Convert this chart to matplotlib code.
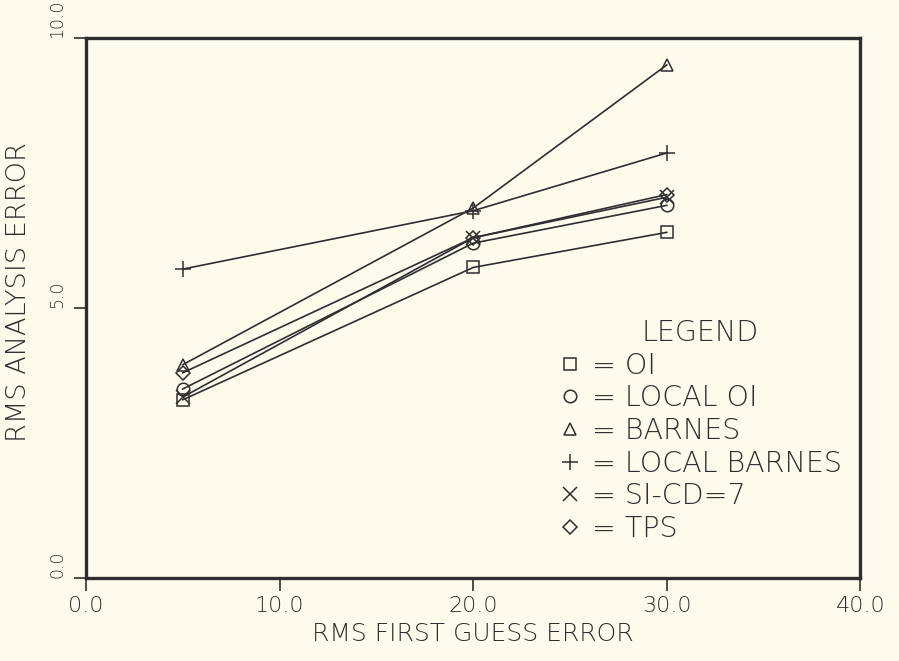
import numpy as np
import matplotlib
matplotlib.use('Agg')
import matplotlib.pyplot as plt

# data
firstGuess = [5.0, 20.0, 30.0]
oi          = [3.30, 5.75, 6.40]
localOi     = [3.50, 6.20, 6.90]
barnes      = [3.95, 6.85, 9.50]
localBarnes = [5.72, 6.80, 7.87]
sicd7       = [3.35, 6.30, 7.05]
tps         = [3.80, 6.30, 7.10]

names   = ['OI', 'LOCAL OI', 'BARNES', 'LOCAL BARNES', 'SI-CD=7', 'TPS']
series  = [oi, localOi, barnes, localBarnes, sicd7, tps]
markers = ['s', 'o', '^', '+', 'x', 'D']
msizes  = [9, 9, 9, 11, 10, 7]

xticks = [0.0, 10.0, 20.0, 30.0, 40.0]
yticks = [0.0, 5.0, 10.0]

bg  = '#fcfbec'
ink = '#2e2e2e'
plt.rcParams['font.family'] = ['DejaVu Sans']
plt.rcParams['font.weight'] = 'light'
plt.rcParams['axes.labelweight'] = 'light'
plt.rcParams['text.color'] = ink

fig = plt.figure(figsize=(8.99, 6.61), dpi=100, facecolor=bg)
ax = fig.add_axes([0.0957, 0.1256, 0.8613, 0.817], facecolor=bg)

for ys, mk, ms, nm in zip(series, markers, msizes, names):
    ax.plot(firstGuess, ys, color=ink, linewidth=1.2, marker=mk, markersize=ms,
            markerfacecolor='none', markeredgecolor=ink, markeredgewidth=1.1,
            label='= ' + nm)

ax.set_xlim(0, 40)
ax.set_ylim(0, 10)
ax.set_xticks(xticks)
ax.set_yticks(yticks)
ax.set_xticklabels(['%.1f' % v for v in xticks], fontsize=16, color=ink)
ax.set_yticklabels(['%.1f' % v for v in yticks], fontsize=12.5, color=ink,
                   rotation=90, va='bottom')
ax.tick_params(axis='both', direction='out', length=9, width=1.2, color=ink)
ax.tick_params(axis='x', pad=4)
ax.tick_params(axis='y', pad=5)
for s in ax.spines.values():
    s.set_linewidth(2.4)
    s.set_color(ink)

ax.set_xlabel('RMS FIRST GUESS ERROR', fontsize=18, color=ink, labelpad=4)
ax.set_ylabel('RMS ANALYSIS ERROR', fontsize=19.5, color=ink)
ax.yaxis.set_label_coords(-0.071, 0.53)

leg = ax.legend(loc='upper left', bbox_to_anchor=(0.595, 0.5), frameon=False,
                title='LEGEND', fontsize=20.5, title_fontsize=20.5, numpoints=1,
                handlelength=0.8, handletextpad=0.4, labelspacing=0.16,
                borderaxespad=0)
for h in leg.legend_handles:
    h.set_linestyle('none')

plt.savefig('out.png', dpi=100, facecolor=bg)
